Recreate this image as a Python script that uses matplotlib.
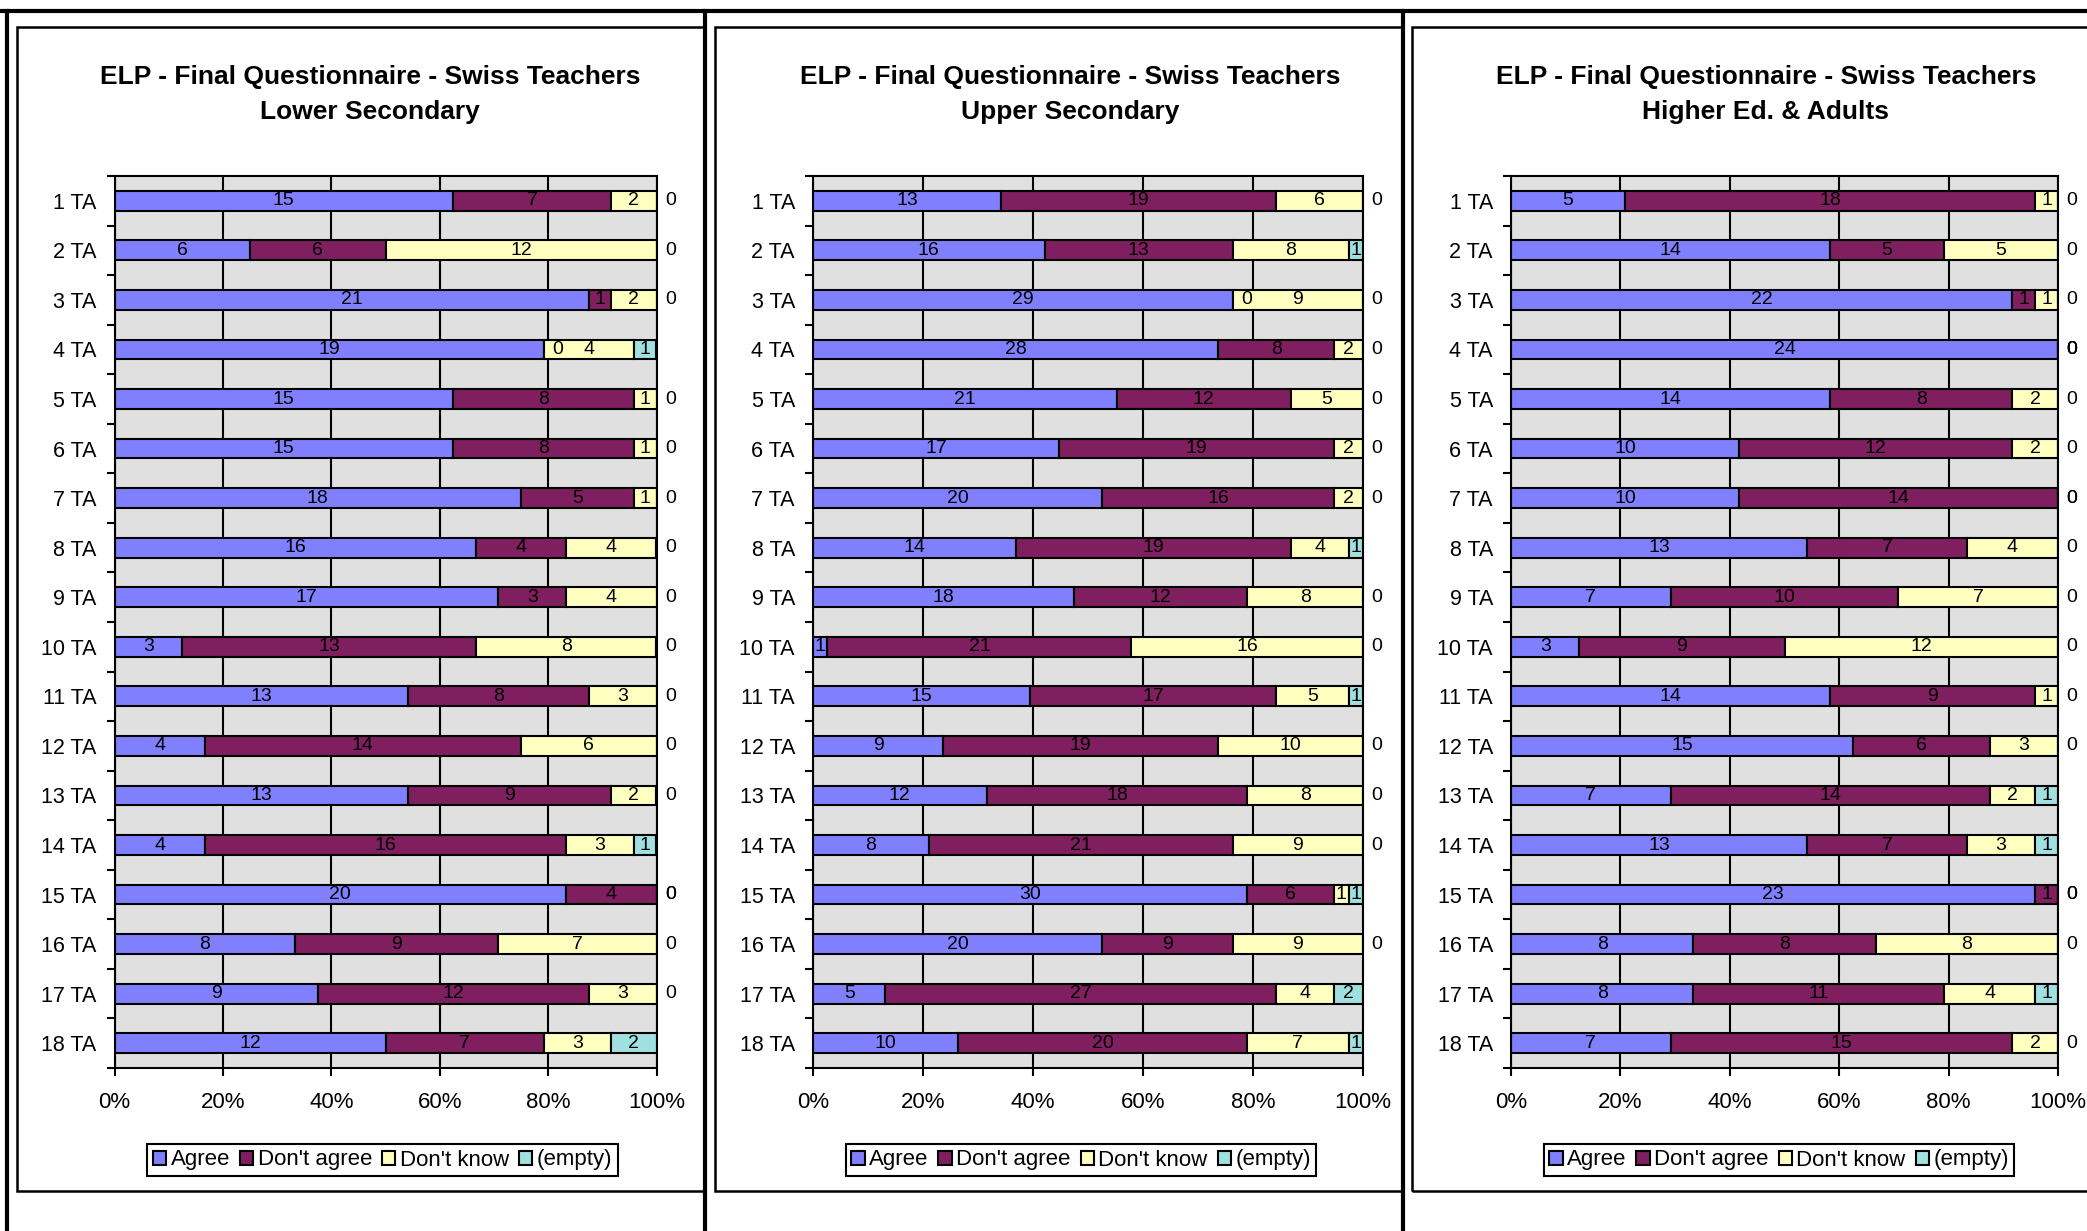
import matplotlib.pyplot as plt
from matplotlib.patches import Rectangle
from matplotlib.lines import Line2D

plt.rcParams['font.family'] = ['Liberation Sans', 'DejaVu Sans']

# categories (questions) and series
categories = ["1 TA", "2 TA", "3 TA", "4 TA", "5 TA", "6 TA", "7 TA", "8 TA", "9 TA",
              "10 TA", "11 TA", "12 TA", "13 TA", "14 TA", "15 TA", "16 TA", "17 TA", "18 TA"]
series_names = ["Agree", "Don't agree", "Don't know", "(empty)"]
colors = ["#8080FF", "#7F1F5F", "#FFFFC0", "#A0E0E0"]
xticks = [0, 20, 40, 60, 80, 100]
xtick_labels = ["0%", "20%", "40%", "60%", "80%", "100%"]

# Lower Secondary
lower_agree = [15, 6, 21, 19, 15, 15, 18, 16, 17, 3, 13, 4, 13, 4, 20, 8, 9, 12]
lower_disagree = [7, 6, 1, 0, 8, 8, 5, 4, 3, 13, 8, 14, 9, 16, 4, 9, 12, 7]
lower_dontknow = [2, 12, 2, 4, 1, 1, 1, 4, 4, 8, 3, 6, 2, 3, 0, 7, 3, 3]
lower_empty = [0, 0, 0, 1, 0, 0, 0, 0, 0, 0, 0, 0, 0, 1, 0, 0, 0, 2]

# Upper Secondary
upper_agree = [13, 16, 29, 28, 21, 17, 20, 14, 18, 1, 15, 9, 12, 8, 30, 20, 5, 10]
upper_disagree = [19, 13, 0, 8, 12, 19, 16, 19, 12, 21, 17, 19, 18, 21, 6, 9, 27, 20]
upper_dontknow = [6, 8, 9, 2, 5, 2, 2, 4, 8, 16, 5, 10, 8, 9, 1, 9, 4, 7]
upper_empty = [0, 1, 0, 0, 0, 0, 0, 1, 0, 0, 1, 0, 0, 0, 1, 0, 2, 1]

# Higher Ed. & Adults
higher_agree = [5, 14, 22, 24, 14, 10, 10, 13, 7, 3, 14, 15, 7, 13, 23, 8, 8, 7]
higher_disagree = [18, 5, 1, 0, 8, 12, 14, 7, 10, 9, 9, 6, 14, 7, 1, 8, 11, 15]
higher_dontknow = [1, 5, 1, 0, 2, 2, 0, 4, 7, 12, 1, 3, 2, 3, 0, 8, 4, 2]
higher_empty = [0, 0, 0, 0, 0, 0, 0, 0, 0, 0, 0, 0, 1, 1, 0, 0, 1, 0]

W, H = 2087, 1231
fig = plt.figure(figsize=(W / 100, H / 100), dpi=100)

# subtitle, data, plot left px, plot width px, title centre px
panels = [
    ("Lower Secondary", [lower_agree, lower_disagree, lower_dontknow, lower_empty], 114.5, 542, 370),
    ("Upper Secondary", [upper_agree, upper_disagree, upper_dontknow, upper_empty], 813, 550, 1070),
    ("Higher Ed. & Adults", [higher_agree, higher_disagree, higher_dontknow, higher_empty], 1511, 547, 1766),
]

# outer sheet lines
lw_thick = 3.0
fig.add_artist(Line2D([0, 1], [1 - 10.5 / H] * 2, color="black", lw=lw_thick, transform=fig.transFigure))
for xv in [7, 705, 1403]:
    fig.add_artist(Line2D([xv / W] * 2, [0, 1 - 10.5 / H], color="black", lw=lw_thick, transform=fig.transFigure))

# chart frames
for x0, x1 in [(17, 705), (715, 1403), (1412, 2110)]:
    fig.add_artist(Rectangle((x0 / W, 1 - 1191 / H), (x1 - x0) / W, (1191 - 27) / H,
                             fill=False, edgecolor="black", lw=1.8, transform=fig.transFigure))

ax_top, ax_bot = 176, 1068
y = list(range(len(categories)))

for subtitle, data, left_px, width_px, title_px in panels:
    ax = fig.add_axes([left_px / W, 1 - ax_bot / H, width_px / W, (ax_bot - ax_top) / H])
    ax.set_facecolor("#E0E0E0")
    ax.set_axisbelow(True)
    ax.grid(axis="x", color="black", lw=1.5)

    totals = [sum(vals) for vals in zip(*data)]
    lefts = [0.0] * len(categories)
    for vals, name, col in zip(data, series_names, colors):
        widths = [v / t * 100 for v, t in zip(vals, totals)]
        ax.barh(y, widths, left=lefts, height=0.4, color=col, edgecolor="black", lw=1.5, label=name)
        for i, (v, w, l) in enumerate(zip(vals, widths, lefts)):
            if v > 0:
                ax.text(l + w / 2, i, str(v), ha="center", va="center", fontsize=14)
            else:
                ax.annotate(str(v), (l, i), xytext=(10, 0), textcoords="offset points",
                            ha="center", va="center", fontsize=14, annotation_clip=False)
        lefts = [l + w for l, w in zip(lefts, widths)]

    ax.set_xlim(0, 100)
    ax.set_ylim(len(categories) - 0.5, -0.5)
    ax.set_xticks(xticks)
    ax.set_xticklabels(xtick_labels, fontsize=16)
    ax.set_yticks(y)
    ax.set_yticklabels(categories, fontsize=15.5)
    ax.set_yticks([i - 0.5 for i in range(len(categories) + 1)], minor=True)
    ax.tick_params(axis="y", which="major", length=0, pad=13)
    ax.tick_params(axis="y", which="minor", length=6, width=1.5)
    ax.tick_params(axis="x", length=6, width=1.5, pad=11)
    for s in ax.spines.values():
        s.set_linewidth(1.5)
        s.set_color("black")

    fig.text(title_px / W, 1 - 77 / H, "ELP - Final Questionnaire - Swiss Teachers",
             ha="center", va="center", fontsize=19, fontweight="bold")
    fig.text(title_px / W, 1 - 112 / H, subtitle,
             ha="center", va="center", fontsize=19, fontweight="bold")

    handles = [Rectangle((0, 0), 1, 1, facecolor=c, edgecolor="black", lw=1.5) for c in colors]
    leg = fig.legend(handles, series_names, loc="center", ncol=4,
                     bbox_to_anchor=((left_px + 268) / W, 1 - 1160 / H),
                     fontsize=16, frameon=True, fancybox=False, framealpha=1,
                     edgecolor="black", handlelength=0.6, handleheight=0.6,
                     handletextpad=0.2, columnspacing=0.45, borderpad=0.25)
    leg.get_frame().set_linewidth(1.5)

fig.savefig("out.png", dpi=100)
